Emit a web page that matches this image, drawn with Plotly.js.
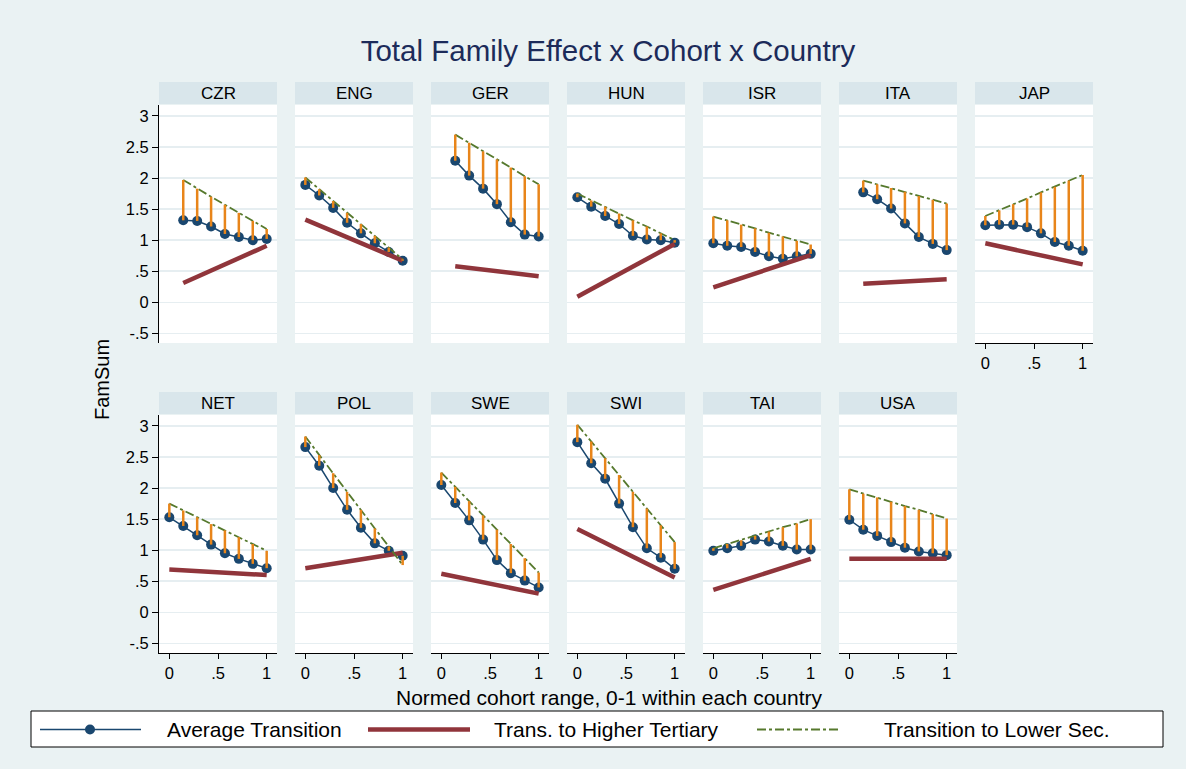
<!DOCTYPE html>
<html>
<head>
<meta charset="utf-8">
<script src="https://cdn.plot.ly/plotly-3.0.1.min.js"></script>
<style>
html,body{margin:0;padding:0;background:#eaf2f3;}
#chart{width:1186px;height:769px;}
</style>
</head>
<body>
<div id="chart"></div>
<script>
// ---------------- data ----------------
const countries = ["CZR","ENG","GER","HUN","ISR","ITA","JAP","NET","POL","SWE","SWI","TAI","USA"];
const cohortX = [0, 0.143, 0.286, 0.429, 0.571, 0.714, 0.857, 1];

const avgTransition = [
  [null,1.32,1.31,1.22,1.10,1.05,1.00,1.02], // CZR
  [1.89,1.72,1.52,1.28,1.11,0.95,0.81,0.67], // ENG
  [null,2.28,2.04,1.83,1.58,1.29,1.09,1.06], // GER
  [1.69,1.54,1.39,1.26,1.07,1.01,1.00,0.96], // HUN
  [0.95,0.91,0.89,0.81,0.74,0.70,0.74,0.78], // ISR
  [null,1.77,1.66,1.51,1.27,1.05,0.94,0.84], // ITA
  [1.24,1.25,1.25,1.21,1.11,0.97,0.91,0.83], // JAP
  [1.53,1.39,1.24,1.09,0.95,0.86,0.78,0.71], // NET
  [2.66,2.36,2.00,1.65,1.36,1.11,0.99,0.91], // POL
  [2.05,1.76,1.48,1.17,0.84,0.63,0.51,0.40], // SWE
  [2.74,2.40,2.15,1.75,1.37,1.03,0.88,0.70], // SWI
  [0.99,1.03,1.07,1.17,1.14,1.07,1.01,1.01], // TAI
  [1.49,1.33,1.23,1.13,1.04,0.98,0.95,0.92]  // USA
];

const lowerSec = [
  [null,1.97,1.83,1.70,1.57,1.44,1.31,1.18],
  [2.01,1.82,1.63,1.44,1.26,1.07,0.88,0.69],
  [null,2.70,2.57,2.43,2.30,2.17,2.03,1.90],
  [1.75,1.64,1.54,1.43,1.32,1.22,1.11,1.00],
  [1.38,1.32,1.25,1.19,1.12,1.06,0.99,0.93],
  [null,1.96,1.90,1.84,1.78,1.71,1.65,1.59],
  [1.39,1.48,1.58,1.67,1.77,1.86,1.96,2.05],
  [1.75,1.64,1.53,1.42,1.32,1.21,1.10,0.99],
  [2.83,2.53,2.24,1.94,1.65,1.35,1.06,0.76],
  [2.25,2.02,1.79,1.56,1.33,1.10,0.87,0.64],
  [3.02,2.75,2.48,2.21,1.94,1.67,1.40,1.13],
  [1.03,1.10,1.16,1.23,1.30,1.37,1.43,1.50],
  [1.98,1.91,1.85,1.78,1.71,1.65,1.58,1.51]
];

// Trans. to Higher Tertiary: straight line, value at first and last cohort
const higherTertiaryStart = [0.31,1.33,0.58,0.09,0.24,0.30,0.95,0.69,0.71,0.62,1.34,0.36,0.86];
const higherTertiaryEnd   = [0.91,0.67,0.42,0.94,0.76,0.37,0.61,0.60,0.96,0.30,0.56,0.86,0.86];

const yTickVals = [-0.5,0,0.5,1,1.5,2,2.5,3];
const yTickText = ["-.5","0",".5","1","1.5","2","2.5","3"];
const xTickVals = [0,0.5,1];
const xTickText = ["0",".5","1"];

// ---------------- layout geometry ----------------
const W = 1186, H = 769;
const colLeft = [159,295,431,567,703,839,975];
const panelW = 118;
const rowTop = [105,415], panelH = 238, stripH = 22;
const FONT = "Arial, Liberation Sans, sans-serif";
const NAVY = "#1a476f", MAROON = "#90353b", GREEN = "#56792d", ORANGE = "#e8851a";
const TICKSIZE = 16.5;

const traces = [];
const layout = {
  width: W, height: H,
  margin: {l:0,r:0,t:0,b:0},
  paper_bgcolor: "#eaf2f3",
  plot_bgcolor: "#ffffff",
  showlegend: false,
  font: {family: FONT, color: "#000", size: TICKSIZE},
  title: {text: "Total Family Effect x Cohort x Country", x: 608/W, xanchor: "center",
          y: 1-51/H, yanchor: "middle", yref: "paper", font: {family: FONT, size: 29.5, color: "#1c2b5a"}},
  shapes: [], annotations: []
};

countries.forEach((c, i) => {
  const row = i < 7 ? 0 : 1;
  const col = i < 7 ? i : i - 7;
  const k = i + 1;
  const xa = k === 1 ? "x" : "x" + k;
  const ya = k === 1 ? "y" : "y" + k;
  const left = colLeft[col], top = rowTop[row];
  const isBottom = row === 1 || col === 6;
  const isLeft = col === 0;

  layout["xaxis" + (k===1?"":k)] = {
    domain: [left/W, (left+panelW)/W], anchor: ya,
    range: [-0.106, 1.106], showgrid: false, zeroline: false,
    showline: isBottom, linecolor: "#000", linewidth: 1,
    tickmode: "array", tickvals: xTickVals, ticktext: xTickText,
    ticks: isBottom ? "outside" : "", ticklen: 5, tickcolor: "#000",
    showticklabels: isBottom, tickfont: {size: TICKSIZE, family: FONT, color: "#000"},
    fixedrange: true
  };
  layout["yaxis" + (k===1?"":k)] = {
    domain: [1-(top+panelH)/H, 1-top/H], anchor: xa,
    range: [-0.656, 3.177], showgrid: true, gridcolor: "#e6eef1", gridwidth: 1.5,
    zeroline: false, showline: isLeft, linecolor: "#000", linewidth: 1,
    tickmode: "array", tickvals: yTickVals, ticktext: yTickText,
    ticks: isLeft ? "outside" : "", ticklen: 6, tickcolor: "#000",
    showticklabels: isLeft, tickfont: {size: TICKSIZE, family: FONT, color: "#000"},
    fixedrange: true
  };

  // strip
  layout.shapes.push({type:"rect", xref:"paper", yref:"paper",
    x0:left/W, x1:(left+panelW)/W, y0:1-(top-1)/H, y1:1-(top-1-stripH)/H,
    fillcolor:"#d9e6eb", line:{width:0}, layer:"below"});
  layout.annotations.push({text:c, xref:"paper", yref:"paper",
    x:(left+panelW/2)/W, y:1-(top-1-stripH/2)/H, xanchor:"center", yanchor:"middle",
    showarrow:false, font:{size:17, family:FONT, color:"#000"}});

  // series
  const xs = [], ys = [];
  cohortX.forEach((x, j) => { if (avgTransition[i][j] !== null) { xs.push(x); ys.push(avgTransition[i][j]); } });
  const lx = [], ly = [];
  cohortX.forEach((x, j) => { if (lowerSec[i][j] !== null) { lx.push(x); ly.push(lowerSec[i][j]); } });
  const sx = [], sy = [];
  cohortX.forEach((x, j) => {
    if (avgTransition[i][j] !== null && lowerSec[i][j] !== null) {
      sx.push(x, x, null); sy.push(avgTransition[i][j], lowerSec[i][j], null);
    }
  });

  traces.push({x: xs, y: ys, xaxis: xa, yaxis: ya, type: "scatter", mode: "lines+markers",
    line: {color: NAVY, width: 1.5}, marker: {color: NAVY, size: 10}, name: "Average Transition", hoverinfo: "skip"});
  traces.push({x: [xs[0], xs[xs.length-1]], y: [higherTertiaryStart[i], higherTertiaryEnd[i]],
    xaxis: xa, yaxis: ya, type: "scatter", mode: "lines",
    line: {color: MAROON, width: 4.5}, name: "Trans. to Higher Tertiary", hoverinfo: "skip"});
  traces.push({x: lx, y: ly, xaxis: xa, yaxis: ya, type: "scatter", mode: "lines",
    line: {color: GREEN, width: 1.8, dash: "dashdot"}, name: "Transition to Lower Sec.", hoverinfo: "skip"});
  traces.push({x: sx, y: sy, xaxis: xa, yaxis: ya, type: "scatter", mode: "lines",
    line: {color: ORANGE, width: 2.5}, connectgaps: false, hoverinfo: "skip"});
});

// axis titles
layout.annotations.push({text:"FamSum", xref:"paper", yref:"paper", x:102/W, y:1-380/H,
  xanchor:"center", yanchor:"middle", textangle:-90, showarrow:false,
  font:{size:20, family:FONT, color:"#000"}});
layout.annotations.push({text:"Normed cohort range, 0-1 within each country", xref:"paper", yref:"paper",
  x:609/W, y:1-697/H, xanchor:"center", yanchor:"middle", showarrow:false,
  font:{size:21, family:FONT, color:"#000"}});

// legend box
const ly0 = 711, ly1 = 747, lyc = 729.5;
layout.shapes.push({type:"rect", xref:"paper", yref:"paper", x0:31/W, x1:1163/W, y0:1-ly1/H, y1:1-ly0/H,
  fillcolor:"#ffffff", line:{color:"#000", width:1}});
layout.shapes.push({type:"line", xref:"paper", yref:"paper", x0:40/W, x1:141/W, y0:1-lyc/H, y1:1-lyc/H,
  line:{color:NAVY, width:1.5}});
layout.shapes.push({type:"circle", xref:"paper", yref:"paper", x0:85/W, x1:95/W, y0:1-(lyc+5)/H, y1:1-(lyc-5)/H,
  fillcolor:NAVY, line:{color:NAVY, width:0}});
layout.shapes.push({type:"line", xref:"paper", yref:"paper", x0:368/W, x1:470/W, y0:1-lyc/H, y1:1-lyc/H,
  line:{color:MAROON, width:4.5}});
layout.shapes.push({type:"line", xref:"paper", yref:"paper", x0:757/W, x1:840/W, y0:1-lyc/H, y1:1-lyc/H,
  line:{color:GREEN, width:1.8, dash:"dashdot"}});
[["Average Transition",165],["Trans. to Higher Tertiary",492],["Transition to Lower Sec.",882]].forEach(([t,x]) => {
  layout.annotations.push({text:t, xref:"paper", yref:"paper", x:x/W, y:1-lyc/H, xanchor:"left", yanchor:"middle",
    showarrow:false, font:{size:21, family:FONT, color:"#000"}});
});

Plotly.newPlot("chart", traces, layout, {displayModeBar:false, staticPlot:true});
</script>
</body>
</html>
